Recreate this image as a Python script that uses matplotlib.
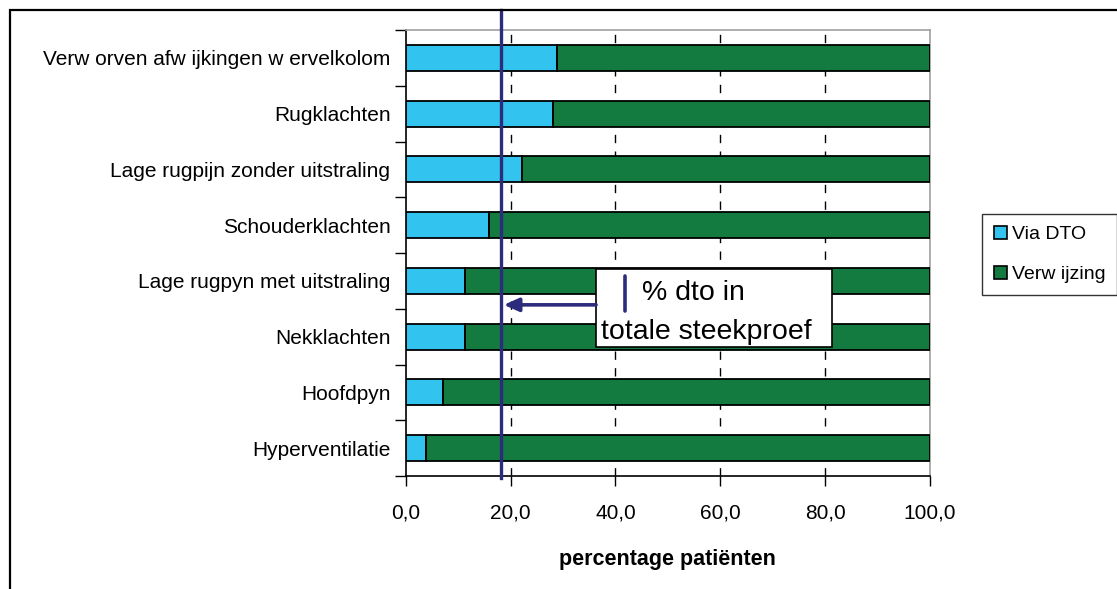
import matplotlib
matplotlib.use("Agg")
import matplotlib.pyplot as plt
from matplotlib.patches import Rectangle, Patch

plt.rcParams['font.family'] = ['Liberation Sans', 'DejaVu Sans']

categories = ["Verw orven afw ijkingen w ervelkolom", "Rugklachten",
              "Lage rugpijn zonder uitstraling", "Schouderklachten",
              "Lage rugpyn met uitstraling", "Nekklachten", "Hoofdpyn",
              "Hyperventilatie"]
via_dto = [28.9, 28.1, 22.2, 15.9, 11.3, 11.3, 7.1, 3.8]
verwijzing = [100 - v for v in via_dto]
total_dto = 18.2
series_names = ["Via DTO", "Verw ijzing"]
xticks = [0, 20, 40, 60, 80, 100]
xtick_labels = ["0,0", "20,0", "40,0", "60,0", "80,0", "100,0"]

BLUE = "#33C3EF"
GREEN = "#137B3F"
NAVY = "#2D2C7C"

W, H = 1117, 589
fig = plt.figure(figsize=(W / 100, H / 100), dpi=100)
fig.patch.set_facecolor("white")

# outer frame (extends beyond right/bottom edge)
fig.patches.append(Rectangle((10 / W, -0.2), 1.2, 1.2 - 10 / H,
                             transform=fig.transFigure, fill=False,
                             edgecolor="black", linewidth=1.6, zorder=0))

ax_l, ax_r, ax_t, ax_b = 405.7, 930, 30, 476
ax = fig.add_axes([ax_l / W, 1 - ax_b / H, (ax_r - ax_l) / W, (ax_b - ax_t) / H])

ypos = list(range(len(categories)))
ax.barh(ypos, via_dto, height=0.47, color=BLUE, edgecolor="black",
        linewidth=1.3, zorder=3, label=series_names[0])
ax.barh(ypos, verwijzing, left=via_dto, height=0.47, color=GREEN,
        edgecolor="black", linewidth=1.3, zorder=3, label=series_names[1])

ax.set_xlim(0, 100)
ax.set_ylim(len(categories) - 0.5, -0.5)

ax.set_xticks(xticks)
ax.set_xticklabels(xtick_labels, fontsize=15)
ax.set_yticks(ypos)
ax.set_yticklabels(categories, fontsize=15)
ax.set_yticks([i + 0.5 for i in range(-1, len(categories))], minor=True)
ax.tick_params(axis="y", which="major", length=0, pad=11)
ax.tick_params(axis="y", which="minor", length=8, width=1, direction="out")
ax.tick_params(axis="x", which="major", length=7, width=1, direction="out", pad=13)

for x in xticks[1:-1]:
    ax.axvline(x, color="black", linestyle=(0, (6, 6)), linewidth=1.0, zorder=1)

for s in ["top", "right"]:
    ax.spines[s].set_color("#A0A0A0")
    ax.spines[s].set_linewidth(1.2)
for s in ["left", "bottom"]:
    ax.spines[s].set_color("black")
    ax.spines[s].set_linewidth(1.2)

ax.set_xlabel("percentage patiënten", fontsize=15.5, fontweight="bold", labelpad=19)

# total sample line
ax.axvline(total_dto, ymin=-0.004, ymax=1 + 20 / (ax_b - ax_t), color=NAVY,
           linewidth=2.4, zorder=5, clip_on=False)

# annotation box
bx0, bx1 = 36.3, 81.3
by0, by1 = 3.79, 5.19
ax.add_patch(Rectangle((bx0, by0), bx1 - bx0, by1 - by0, facecolor="white",
                       edgecolor="black", linewidth=1.2, zorder=6))
ax.plot([41.8, 41.8], [3.91, 4.54], color=NAVY, linewidth=2.6, zorder=7,
        solid_capstyle="round")
ax.text(45.0, 4.22, "% dto in", fontsize=20.5, va="center", ha="left", zorder=7)
ax.text(37.3, 4.91, "totale steekproef", fontsize=20.5, va="center", ha="left", zorder=7)
ax.annotate("", xy=(total_dto + 0.5, 4.43), xytext=(bx0, 4.43),
            arrowprops=dict(arrowstyle="-|>,head_length=0.9,head_width=0.4",
                            color=NAVY, linewidth=2.6, shrinkA=0, shrinkB=0),
            zorder=7)

handles = [Patch(facecolor=BLUE, edgecolor="black", linewidth=1.2),
           Patch(facecolor=GREEN, edgecolor="black", linewidth=1.2)]
leg = fig.legend(handles, series_names, loc="upper left",
                 bbox_to_anchor=(982 / W, 1 - 214 / H), fontsize=14,
                 frameon=True, fancybox=False, edgecolor="black",
                 handlelength=0.7, handleheight=0.7, handletextpad=0.25,
                 borderpad=0.6, labelspacing=1.15, borderaxespad=0)
leg.get_frame().set_linewidth(1.0)

fig.savefig("out.png", dpi=100)
